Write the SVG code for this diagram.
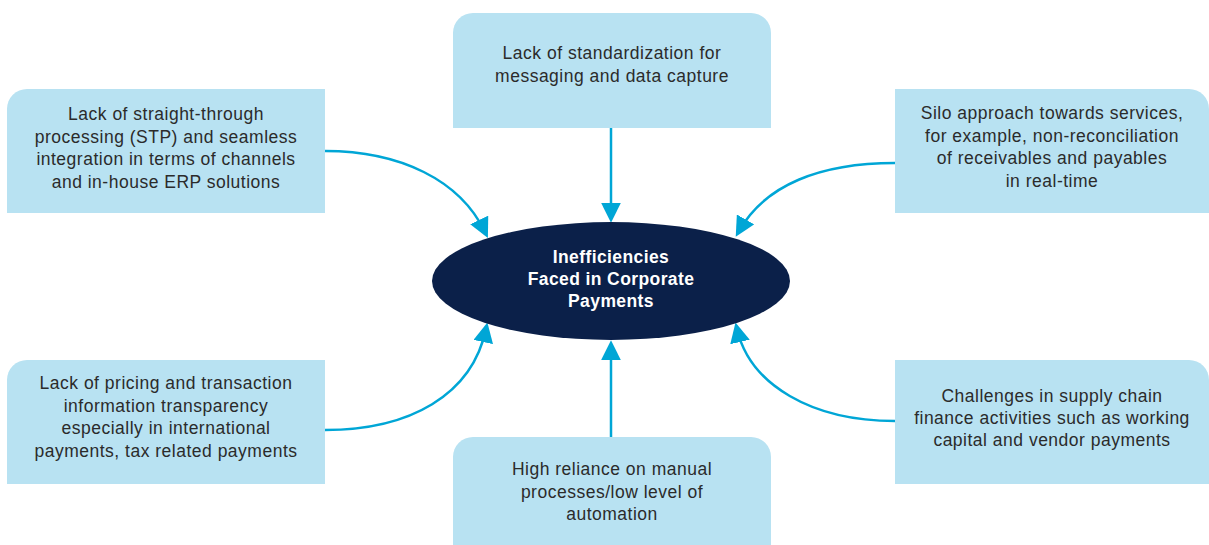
<svg xmlns="http://www.w3.org/2000/svg" width="1209" height="545" viewBox="0 0 1209 545">
<style>
.box{fill:#b8e2f2}
.t{font-family:"Liberation Sans",Arial,sans-serif;font-size:17.5px;letter-spacing:0.5px;fill:#2b2b2b;text-anchor:middle}
.c{font-family:"Liberation Sans",Arial,sans-serif;font-size:17.5px;letter-spacing:0.4px;font-weight:bold;fill:#ffffff;text-anchor:middle}
.ln{fill:none;stroke:#00a6d6;stroke-width:2.5}
</style>
<defs>
<marker id="ah" markerUnits="userSpaceOnUse" markerWidth="20" markerHeight="20" viewBox="0 0 18 18" refX="12" refY="9" orient="auto">
<path d="M0,0 L18,9 L0,18 z" fill="#00a6d6"/>
</marker>
</defs>
<rect width="1209" height="545" fill="#ffffff"/>
<g id="connectors">
<path class="ln" d="M611,128 V216" marker-end="url(#ah)"/>
<path class="ln" d="M611,437 V347" marker-end="url(#ah)"/>
<path class="ln" d="M325,151 C400,151 460,180 485,232" marker-end="url(#ah)"/>
<path class="ln" d="M895,163 C820,163 765,185 739,231" marker-end="url(#ah)"/>
<path class="ln" d="M325,430 C410,430 472,395 486,329" marker-end="url(#ah)"/>
<path class="ln" d="M895,421 C812,421 750,385 737,329" marker-end="url(#ah)"/>
</g>
<g id="center">
<ellipse cx="611" cy="281" rx="179" ry="59" fill="#0b2049"/>
<text class="c" x="611" y="263">Inefficiencies</text>
<text class="c" x="611" y="285">Faced in Corporate</text>
<text class="c" x="611" y="307">Payments</text>
</g>
<g id="node-top">
<path class="box" d="M453,128 V33 A20,20 0 0 1 473,13 H751 A20,20 0 0 1 771,33 V128 Z"/>
<text class="t" x="612" y="59">Lack of standardization for</text>
<text class="t" x="612" y="82">messaging and data capture</text>
</g>
<g id="node-top-left">
<path class="box" d="M7,213 V109 A20,20 0 0 1 27,89 H325 V213 Z"/>
<text class="t" x="166" y="120">Lack of straight-through</text>
<text class="t" x="166" y="142.5">processing (STP) and seamless</text>
<text class="t" x="166" y="165">integration in terms of channels</text>
<text class="t" x="166" y="187.5">and in-house ERP solutions</text>
</g>
<g id="node-top-right">
<path class="box" d="M895,89 H1189 A20,20 0 0 1 1209,109 V213 H895 Z"/>
<text class="t" x="1052" y="119">Silo approach towards services,</text>
<text class="t" x="1052" y="141.5">for example, non-reconciliation</text>
<text class="t" x="1052" y="164">of receivables and payables</text>
<text class="t" x="1052" y="186.5">in real-time</text>
</g>
<g id="node-bottom-left">
<path class="box" d="M7,484 V380 A20,20 0 0 1 27,360 H325 V484 Z"/>
<text class="t" x="166" y="389">Lack of pricing and transaction</text>
<text class="t" x="166" y="411.5">information transparency</text>
<text class="t" x="166" y="434">especially in international</text>
<text class="t" x="166" y="456.5">payments, tax related payments</text>
</g>
<g id="node-bottom-right">
<path class="box" d="M895,360 H1189 A20,20 0 0 1 1209,380 V484 H895 Z"/>
<text class="t" x="1052" y="402">Challenges in supply chain</text>
<text class="t" x="1052" y="424">finance activities such as working</text>
<text class="t" x="1052" y="446">capital and vendor payments</text>
</g>
<g id="node-bottom">
<path class="box" d="M453,545 V457 A20,20 0 0 1 473,437 H751 A20,20 0 0 1 771,457 V545 Z"/>
<text class="t" x="612" y="475">High reliance on manual</text>
<text class="t" x="612" y="497.5">processes/low level of</text>
<text class="t" x="612" y="520">automation</text>
</g>
</svg>
